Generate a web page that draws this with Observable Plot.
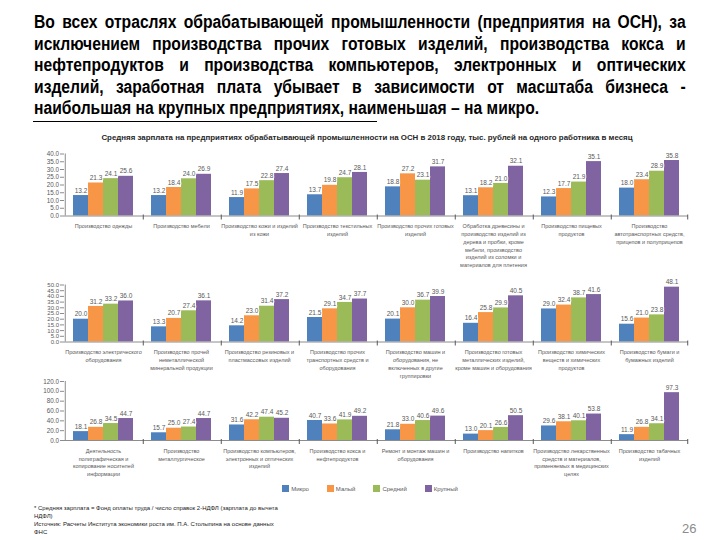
<!DOCTYPE html>
<html><head><meta charset="utf-8">
<script src="https://cdn.jsdelivr.net/npm/d3@7"></script>
<script src="https://cdn.jsdelivr.net/npm/@observablehq/plot@0.6"></script>
<style>
body{margin:0;background:#fff;}
#page{position:relative;width:720px;height:540px;overflow:hidden;font-family:"Liberation Sans",Arial,sans-serif;}
#lead{position:absolute;left:34px;top:12px;width:749px;transform:scaleX(0.87);transform-origin:0 0;font-family:"Liberation Sans",Arial,sans-serif;font-weight:bold;font-size:18px;line-height:21.5px;color:#000;}
#lead div{text-align:justify;text-align-last:justify;}
#lead div.last{text-align-last:left;}
#rule{position:absolute;left:33px;top:121px;width:344px;height:0;border-top:1px solid #000;}
#ctitle{position:absolute;left:0;top:133px;width:734px;text-align:center;font-size:7.9px;font-weight:bold;color:#262626;}
.row{position:absolute;left:0;}
#legend{position:absolute;left:0;width:740px;top:485px;display:flex;justify-content:center;gap:18px;font-size:6px;color:#595959;}
#legend span.sw{display:inline-block;width:7px;height:7px;margin-right:2px;vertical-align:-1px;}
#foot{position:absolute;left:34px;top:504px;font-size:6px;line-height:8px;color:#222;}
#pnum{position:absolute;left:682px;top:521px;font-size:13px;color:#8c8c8c;}
</style>
</head><body>
<div id="page">
  <div id="lead">
    <div>Во всех отраслях обрабатывающей промышленности (предприятия на ОСН), за</div>
    <div>исключением производства прочих готовых изделий, производства кокса и</div>
    <div>нефтепродуктов и производства компьютеров, электронных и оптических</div>
    <div>изделий, заработная плата убывает в зависимости от масштаба бизнеса -</div>
    <div class="last">наибольшая на крупных предприятиях, наименьшая – на микро.</div>
  </div>
  <div id="rule"></div>
  <div id="ctitle">Средняя зарплата на предприятиях обрабатывающей промышленности на ОСН в 2018 году, тыс. рублей на одного работника в месяц</div>
  <div id="row1" class="row" style="top:145px"></div>
  <div id="row2" class="row" style="top:276px"></div>
  <div id="row3" class="row" style="top:372px"></div>
  <div id="legend"></div>
  <div id="foot">* Средняя зарплата = Фонд оплаты труда / число справок 2-НДФЛ (зарплата до вычета<br>НДФЛ)<br>Источник: Расчеты Института экономики роста им. П.А. Столыпина на основе данных<br>ФНС</div>
  <div id="pnum">26</div>
</div>
<script>
const sizes = ["Микро", "Малый", "Средний", "Крупный"];
const sizeColors = ["#4F81BD", "#F79646", "#9BBB59", "#8064A2"];

const row1Industries = [
  "Производство одежды",
  "Производство мебели",
  "Производство кожи и изделий\nиз кожи",
  "Производство текстильных\nизделий",
  "Производство прочих готовых\nизделий",
  "Обработка древесины и\nпроизводство изделий из\nдерева и пробки, кроме\nмебели, производство\nизделий из соломки и\nматериалов для плетения",
  "Производство пищевых\nпродуктов",
  "Производство\nавтотранспортных средств,\nприцепов и полуприцепов"
];
const row1Micro  = [13.2, 13.2, 11.9, 13.7, 18.8, 13.1, 12.3, 18.0];
const row1Small  = [21.3, 18.4, 17.5, 19.8, 27.2, 18.2, 17.7, 23.4];
const row1Medium = [24.1, 24.0, 22.8, 24.7, 23.1, 21.0, 21.9, 28.9];
const row1Large  = [25.6, 26.9, 27.4, 28.1, 31.7, 32.1, 35.1, 35.8];
const row1Ticks  = [0, 5, 10, 15, 20, 25, 30, 35, 40];

const row2Industries = [
  "Производство электрического\nоборудования",
  "Производство прочей\nнеметаллической\nминеральной продукции",
  "Производство резиновых и\nпластмассовых изделий",
  "Производство прочих\nтранспортных средств и\nоборудования",
  "Производство машин и\nоборудования, не\nвключенных в другие\nгруппировки",
  "Производство готовых\nметаллических изделий,\nкроме машин и оборудования",
  "Производство химических\nвеществ и химических\nпродуктов",
  "Производство бумаги и\nбумажных изделий"
];
const row2Micro  = [20.0, 13.3, 14.2, 21.5, 20.1, 16.4, 29.0, 15.6];
const row2Small  = [31.2, 20.7, 23.0, 29.1, 30.0, 25.8, 32.4, 21.0];
const row2Medium = [33.2, 27.4, 31.4, 34.7, 36.7, 29.9, 38.7, 23.8];
const row2Large  = [36.0, 36.1, 37.2, 37.7, 39.9, 40.5, 41.6, 48.1];
const row2Ticks  = [0, 5, 10, 15, 20, 25, 30, 35, 40, 45, 50];

const row3Industries = [
  "Деятельность\nполиграфическая и\nкопирование носителей\nинформации",
  "Производство\nметаллургическое",
  "Производство компьютеров,\nэлектронных и оптических\nизделий",
  "Производство кокса и\nнефтепродуктов",
  "Ремонт и монтаж машин и\nоборудования",
  "Производство напитков",
  "Производство лекарственных\nсредств и материалов,\nприменяемых в медицинских\nцелях",
  "Производство табачных\nизделий"
];
const row3Micro  = [18.1, 15.7, 31.6, 40.7, 21.8, 13.0, 29.6, 11.9];
const row3Small  = [26.8, 25.0, 42.2, 33.6, 33.0, 20.1, 38.1, 26.8];
const row3Medium = [34.5, 27.4, 47.4, 41.9, 40.6, 26.6, 40.1, 34.1];
const row3Large  = [44.7, 44.7, 45.2, 49.2, 49.6, 50.5, 53.8, 97.3];
const row3Ticks  = [0, 20, 40, 60, 80, 100, 120];

const W = 720, ML = 61, MR = 30;
const facetW = (W - ML - MR) / 8;
const bw = facetW / 5;

function rowChart(industries, series, ticks, o) {
  const data = [];
  industries.forEach((ind, i) => {
    sizes.forEach((s, j) => data.push({industry: ind, size: s, value: series[j][i]}));
  });
  const ymax = ticks[ticks.length - 1];
  const first = [industries[0]];
  const last = [industries[industries.length - 1]];
  return Plot.plot({
    width: W,
    height: o.height,
    marginLeft: ML,
    marginRight: MR,
    marginTop: o.mt,
    marginBottom: o.height - o.mt - o.ph,
    style: {fontFamily: "Liberation Sans, Arial, sans-serif", background: "transparent", overflow: "visible"},
    fx: {domain: industries, padding: 0, label: null},
    x: {domain: sizes, paddingInner: 0, paddingOuter: 0.5, axis: null},
    y: {domain: [0, ymax], label: null},
    color: {domain: sizes, range: sizeColors},
    marks: [
      Plot.barY(data, {fx: "industry", x: "size", y: "value", fill: "size"}),
      Plot.ruleY([0], {stroke: "#8c8c8c", strokeWidth: 1}),
      Plot.ruleX(first, {fx: d => d, x: () => sizes[0], y1: 0, y2: ymax, dx: -bw, stroke: "#8c8c8c"}),
      Plot.ruleX(industries.slice(1), {fx: d => d, x: () => sizes[0], y1: 0, y2: 0, insetTop: -1, insetBottom: -4, dx: -bw, stroke: "#595959"}),
      Plot.ruleX(last, {fx: d => d, x: () => sizes[3], y1: 0, y2: 0, insetTop: -1, insetBottom: -4, dx: bw, stroke: "#595959"}),
      Plot.axisY({ticks, tickFormat: d3.format(".1f"), tickSize: 4, tickPadding: 1.5, fontSize: o.tickFont, color: "#595959", stroke: "#8c8c8c", label: null}),
      Plot.axisFx({anchor: "bottom", tickSize: 0, tickPadding: 7, fontSize: 5.5, lineHeight: 1.4, lineAnchor: "top", fill: "#595959", label: null}),
      Plot.text(data, {fx: "industry", x: "size", y: "value", text: d => d3.format(".1f")(d.value), dy: -5, fontSize: 6.5, fill: "#595959", stroke: "white", strokeWidth: 2, paintOrder: "stroke"})
    ]
  });
}

document.getElementById("row1").append(rowChart(row1Industries, [row1Micro, row1Small, row1Medium, row1Large], row1Ticks, {height: 135, mt: 8.5, ph: 62, tickFont: 6.3}));
document.getElementById("row2").append(rowChart(row2Industries, [row2Micro, row2Small, row2Medium, row2Large], row2Ticks, {height: 104, mt: 8.5, ph: 57, tickFont: 6}));
document.getElementById("row3").append(rowChart(row3Industries, [row3Micro, row3Small, row3Medium, row3Large], row3Ticks, {height: 100, mt: 9, ph: 59, tickFont: 6.3}));

const legend = document.getElementById("legend");
sizes.forEach((s, i) => {
  const item = document.createElement("div");
  item.innerHTML = `<span class="sw" style="background:${sizeColors[i]}"></span>${s}`;
  legend.append(item);
});
</script>
</body></html>
